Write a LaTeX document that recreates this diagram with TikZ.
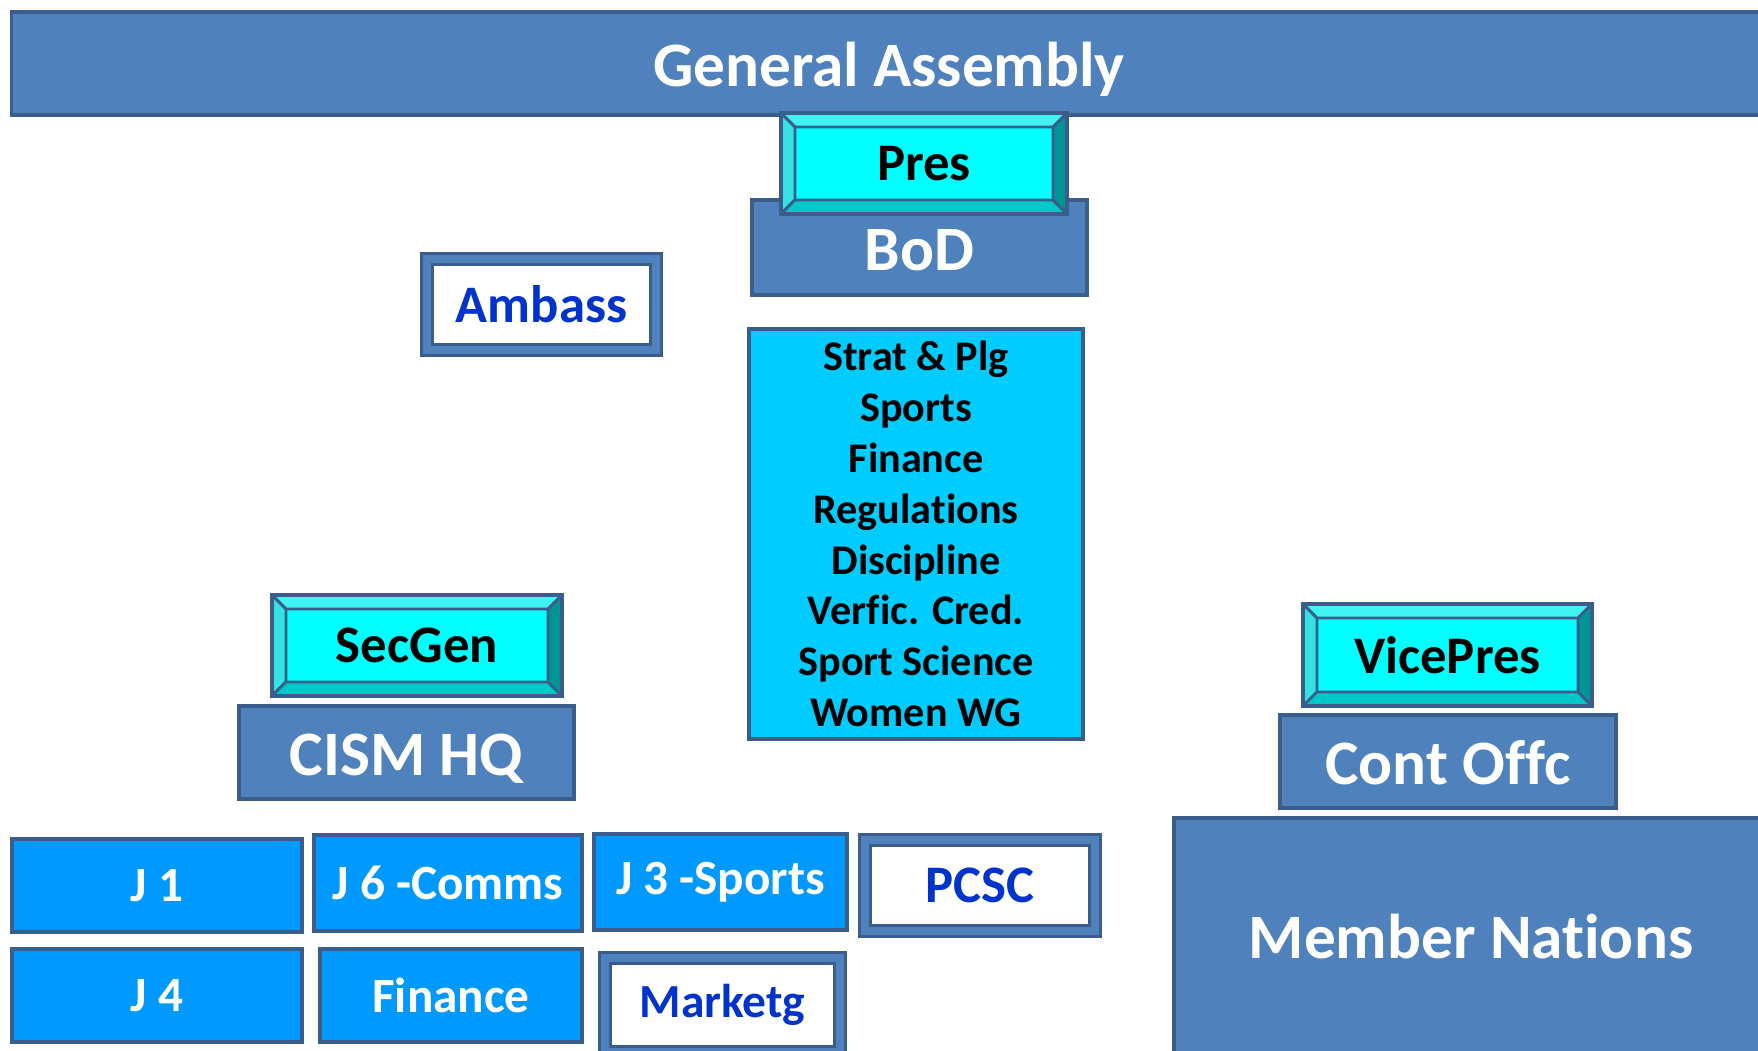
\documentclass[tikz,border=0pt]{standalone}
\usepackage{fontspec}
\setmainfont{Carlito}[Ligatures=NoCommon]
\definecolor{edge}{HTML}{3A5D8B}
\definecolor{gafill}{HTML}{4F81BD}
\definecolor{cyanf}{HTML}{00FFFF}
\definecolor{bvtop}{HTML}{40F2F2}
\definecolor{bvleft}{HTML}{33E3E3}
\definecolor{bvbot}{HTML}{00C8C8}
\definecolor{bvright}{HTML}{009494}
\definecolor{commfill}{HTML}{00CCFF}
\definecolor{jfill}{HTML}{0099FF}
\definecolor{bluetxt}{HTML}{0033CC}
\def\bv{0.14cm}
\begin{document}
\begin{tikzpicture}[x=0.01cm,y=-0.01cm,
  every node/.style={inner sep=0pt, font=\bfseries},
  box/.style={rectangle, draw=edge, line width=1pt},
  plain/.style={box, fill=gafill, text=white, font=\bfseries\fontsize{18}{21}\selectfont,
    text height=12.8pt, text depth=0pt},
  jbox/.style={box, fill=jfill, text=white, font=\bfseries\fontsize{14}{16}\selectfont},
  dframe/.style={rectangle, draw=edge, line width=0.85pt, double=gafill, double distance=2.4pt,
    fill=white, text=bluetxt, font=\bfseries\fontsize{15}{18}\selectfont},
  bevel/.style={box, fill=cyanf, text=black, font=\bfseries\fontsize{15}{18}\selectfont,
    path picture={
      \coordinate (nw) at (path picture bounding box.north west);
      \coordinate (ne) at (path picture bounding box.north east);
      \coordinate (sw) at (path picture bounding box.south west);
      \coordinate (se) at (path picture bounding box.south east);
      \coordinate (inw) at ([xshift=\bv,yshift=-\bv]nw);
      \coordinate (ine) at ([xshift=-\bv,yshift=-\bv]ne);
      \coordinate (isw) at ([xshift=\bv,yshift=\bv]sw);
      \coordinate (ise) at ([xshift=-\bv,yshift=\bv]se);
      \path[draw=edge, line width=0.8pt, fill=bvtop] (nw) -- (ne) -- (ine) -- (inw) -- cycle;
      \path[draw=edge, line width=0.8pt, fill=bvleft] (nw) -- (inw) -- (isw) -- (sw) -- cycle;
      \path[draw=edge, line width=0.8pt, fill=bvbot] (sw) -- (isw) -- (ise) -- (se) -- cycle;
      \path[draw=edge, line width=0.8pt, fill=bvright] (se) -- (ise) -- (ine) -- (ne) -- cycle;
    }}
]
\clip (0,0) rectangle (1758,1050);

\node[plain, minimum width=17.54cm, minimum height=1.03cm] (ga) at (889,63.5) {General Assembly};
\node[plain, minimum width=3.35cm, minimum height=0.95cm] (bod) at (919.5,247.5) {BoD};
\node[bevel, minimum width=2.86cm, minimum height=1.01cm] (pres) at (924,163.5) {Pres};
\node[dframe, minimum width=2.29cm, minimum height=0.91cm] (ambass) at (541.5,304.5) {Ambass};

\node[box, fill=commfill, minimum width=3.34cm, minimum height=4.10cm, align=center,
  font=\bfseries\fontsize{12}{14.46}\selectfont] (comm) at (916,534)
  {Strat \& Plg\\Sports\\Finance\\Regulations\\Discipline\\Verfic. Cred.\\Sport Science\\Women WG};

\node[bevel, minimum width=2.90cm, minimum height=1.01cm] (secgen) at (417,645.5) {SecGen};
\node[plain, minimum width=3.35cm, minimum height=0.93cm] (hq) at (406.5,752.5) {CISM HQ};

\node[bevel, minimum width=2.89cm, minimum height=1.02cm] (vicepres) at (1447.5,655) {VicePres};
\node[plain, minimum width=3.36cm, minimum height=0.93cm] (contoffc) at (1448,761.5) {Cont Offc};
\node[plain, minimum width=5.94cm, minimum height=2.36cm] (nations) at (1471,936) {Member Nations};

\node[jbox, minimum width=2.90cm, minimum height=0.93cm] (j1) at (157,885.5) {J 1};
\node[jbox, minimum width=2.68cm, minimum height=0.96cm] (j6) at (448,883) {J 6 -Comms};
\node[jbox, minimum width=2.53cm, minimum height=0.96cm] (j3) at (720.5,882) {J 3 -Sports};
\node[dframe, minimum width=2.30cm, minimum height=0.91cm] (pcsc) at (980,885.5) {PCSC};
\node[jbox, minimum width=2.90cm, minimum height=0.93cm] (j4) at (157,995.5) {J 4};
\node[jbox, minimum width=2.62cm, minimum height=0.93cm] (finance) at (451,995.5) {Finance};
\node[dframe, minimum width=2.35cm, minimum height=0.94cm, font=\bfseries\fontsize{13.5}{16}\selectfont] (marketg) at (722.5,1005) {Marketg};
\end{tikzpicture}
\end{document}
